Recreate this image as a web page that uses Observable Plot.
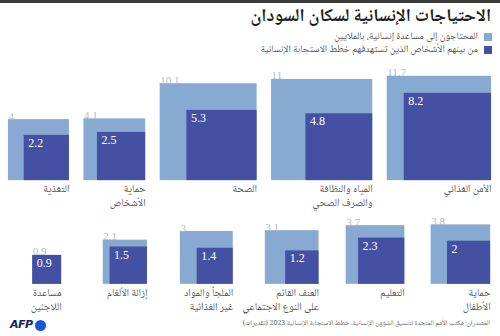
<!DOCTYPE html>
<html><head><meta charset="utf-8">
<script src="https://cdn.jsdelivr.net/npm/d3@7"></script>
<script src="https://cdn.jsdelivr.net/npm/@observablehq/plot@0.6"></script>
<style>
body{margin:0;background:#fff;}
#wrap{position:relative;width:500px;height:336px;overflow:hidden;background:#fff;font-family:"Noto Naskh Arabic","Noto Sans Arabic","DejaVu Sans",sans-serif;}
#bar{position:absolute;left:0;top:0;width:500px;height:3px;background:#3b3b3b;}
#title{position:absolute;right:9px;top:6px;font-size:18px;line-height:22px;font-weight:bold;color:#1e1e1e;direction:rtl;white-space:nowrap;}
.leg{position:absolute;right:8px;font-size:10px;line-height:12px;color:#555;direction:rtl;white-space:nowrap;display:flex;align-items:center;height:12px;}
.sw{display:inline-block;width:8px;height:8px;margin-left:6px;}
#chart{position:absolute;left:0;top:56px;}
#src{position:absolute;right:10px;top:319px;font-size:7px;line-height:9px;color:#666;direction:rtl;white-space:nowrap;}
#afp{position:absolute;left:10px;top:319px;display:flex;align-items:center;font-family:"DejaVu Sans",sans-serif;font-weight:bold;font-style:italic;font-size:11px;line-height:12px;color:#10275e;letter-spacing:-0.5px;}
#afp span.dot{display:inline-block;width:11px;height:11px;border-radius:50%;background:#1756d6;margin-left:2px;}
</style></head>
<body>
<div id="wrap">
  <div id="bar"></div>
  <div id="title">الاحتياجات الإنسانية لسكان السودان</div>
  <div class="leg" id="leg1" style="top:31px"><span class="sw" style="background:#88a9d1"></span><span id="l1"></span></div>
  <div class="leg" id="leg2" style="top:44px"><span class="sw" style="background:#4450a1"></span><span id="l2"></span></div>
  <div id="chart"></div>
  <div id="afp"><span>AFP</span><span class="dot"></span></div>
  <div id="src">المصدران: مكتب الأمم المتحدة لتنسيق الشؤون الإنسانية، خطط الاستجابة الإنسانية 2023 (تقديرات)</div>
</div>
<script>
// Legend labels
const legendLabels = ["المحتاجون إلى مساعدة إنسانية، بالملايين", "من بينهم الأشخاص الذين تستهدفهم خطط الاستجابة الإنسانية"];

// Top row (right to left)
const rowA = ["الأمن الغذائي", "المياه والنظافة\nوالصرف الصحي", "الصحة", "حماية\nالأشخاص", "التغذية"];
const needA = [11.7, 11, 10.1, 4.1, 4];
const targetA = [8.2, 4.8, 5.3, 2.5, 2.2];

// Bottom row (right to left)
const rowB = ["حماية\nالأطفال", "التعليم", "العنف القائم\nعلى النوع الاجتماعي", "الملجأ والمواد\nغير الغذائية", "إزالة الألغام", "مساعدة\nاللاجئين"];
const needB = [3.8, 3.7, 3.1, 3, 2.1, 0.9];
const targetB = [2, 2.3, 1.2, 1.4, 1.5, 0.9];

document.getElementById("l1").textContent = legendLabels[0];
document.getElementById("l2").textContent = legendLabels[1];

// Layout in "sqrt(million)" units: square side = sqrt(value)
const unit = 30.5, W = 500, H = 262;
const rightA = 16.1, gapA = 0.475, baseA = 4.07;
const rightB = 16.07, slotB = 2.813, baseB = 7.47;

const cells = [];
let r = rightA;
rowA.forEach((name, i) => {
  cells.push({name, need: needA[i], target: targetA[i], right: r, base: baseA});
  r -= Math.sqrt(needA[i]) + gapA;
});
rowB.forEach((name, i) => {
  cells.push({name, need: needB[i], target: targetB[i], right: rightB - i * slotB, base: baseB});
});

const side = v => Math.sqrt(v);
const serif = "'Liberation Serif', 'DejaVu Serif', serif";

const plot = Plot.plot({
  width: W, height: H,
  margin: 0,
  style: {background: "transparent"},
  x: {domain: [0, W / unit], range: [0, W], axis: null},
  y: {domain: [0, H / unit], range: [0, H], axis: null},
  marks: [
    Plot.rect(cells, {x1: d => d.right - side(d.need), x2: "right", y1: d => d.base - side(d.need), y2: "base", fill: "#88a9d1"}),
    Plot.rect(cells, {x1: d => d.right - side(d.target), x2: "right", y1: d => d.base - side(d.target), y2: "base", fill: "#4450a1"}),
    Plot.text(cells, {x: d => d.right - side(d.need), y: d => d.base - side(d.need), text: d => String(d.need), textAnchor: "start", lineAnchor: "bottom", dy: 0, fill: "#b9b9b9", fontSize: 11, fontFamily: serif}),
    Plot.text(cells, {x: d => d.right - side(d.target), y: d => d.base - side(d.target), text: d => String(d.target), textAnchor: "start", lineAnchor: "top", dx: 4, dy: 3, fill: "#ffffff", fontSize: 12, fontFamily: serif}),
    Plot.text(cells, {x: "right", y: "base", text: "name", textAnchor: "end", lineAnchor: "top", dy: 2, fill: "#555", fontSize: 10.5, lineHeight: 1.3, fontFamily: "'Noto Naskh Arabic','Noto Sans Arabic','DejaVu Sans',sans-serif"})
  ]
});
document.getElementById("chart").appendChild(plot);
</script>
</body></html>
